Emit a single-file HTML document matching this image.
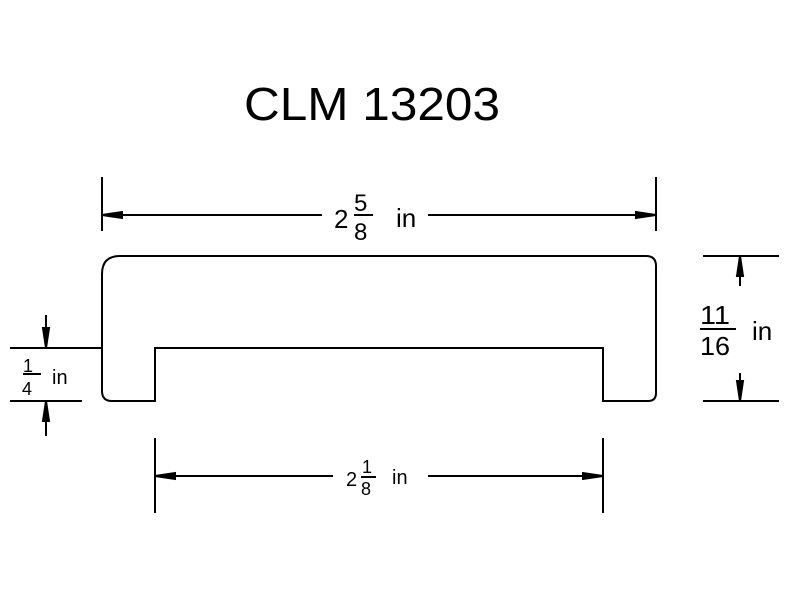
<!DOCTYPE html>
<html><head><style>body{margin:0;background:#fff}svg{display:block}</style></head>
<body>
<svg width="800" height="600" viewBox="0 0 800 600" xmlns="http://www.w3.org/2000/svg" font-family="Liberation Sans, sans-serif" fill="none" stroke="#000" stroke-width="2">
<text x="372" y="120" font-size="46" text-anchor="middle" fill="#000" stroke="none" textLength="256" lengthAdjust="spacingAndGlyphs">CLM 13203</text>
<!-- profile -->
<path d="M102 274 Q102 256 120 256 L646 256 Q656 256 656 266 L656 393 Q656 401 648 401 L603 401 L603 348 L155 348 L155 401 L112 401 Q102 401 102 391 Z"/>
<!-- top dim -->
<line x1="102" y1="177" x2="102" y2="231"/>
<line x1="656" y1="177" x2="656" y2="231"/>
<line x1="102" y1="215" x2="322" y2="215"/>
<line x1="428" y1="215" x2="656" y2="215"/>
<path d="M102 215 l20 -3 v6 z M656 215 l-20 -3 v6 z" fill="#000"/>
<g fill="#000" stroke="none">
<text x="334" y="228" font-size="26">2</text>
<text x="354" y="211" font-size="24">5</text>
<text x="354" y="240" font-size="24">8</text>
<text x="396" y="227" font-size="26">in</text>
</g>
<line x1="354" y1="215" x2="373" y2="215"/>
<!-- bottom dim -->
<line x1="155" y1="438" x2="155" y2="513"/>
<line x1="603" y1="438" x2="603" y2="513"/>
<line x1="155" y1="476" x2="333" y2="476"/>
<line x1="428" y1="476" x2="603" y2="476"/>
<path d="M155 476 l20 -3 v6 z M603 476 l-20 -3 v6 z" fill="#000"/>
<g fill="#000" stroke="none">
<text x="346" y="486" font-size="20">2</text>
<text x="362" y="473" font-size="18">1</text>
<text x="361" y="495" font-size="18">8</text>
<text x="392" y="484" font-size="20">in</text>
</g>
<line x1="361" y1="477" x2="376" y2="477"/>
<!-- left dim -->
<line x1="10" y1="348" x2="102" y2="348"/>
<line x1="10" y1="401" x2="82" y2="401"/>
<line x1="46" y1="315" x2="46" y2="348"/>
<line x1="46" y1="401" x2="46" y2="436"/>
<path d="M46 348 l-3 -20 h6 z M46 401 l-3 20 h6 z" fill="#000"/>
<g fill="#000" stroke="none">
<text x="23" y="372" font-size="18">1</text>
<text x="22" y="395" font-size="18">4</text>
<text x="52" y="384" font-size="20">in</text>
</g>
<line x1="23" y1="374" x2="41" y2="374"/>
<!-- right dim -->
<line x1="703" y1="256" x2="779" y2="256"/>
<line x1="703" y1="401" x2="779" y2="401"/>
<line x1="740" y1="256" x2="740" y2="286"/>
<line x1="740" y1="373" x2="740" y2="401"/>
<path d="M740 256 l-3 20 h6 z M740 401 l-3 -20 h6 z" fill="#000"/>
<g fill="#000" stroke="none">
<text x="700" y="324" font-size="26" textLength="30" lengthAdjust="spacingAndGlyphs">11</text>
<text x="700" y="355" font-size="26" textLength="30" lengthAdjust="spacingAndGlyphs">16</text>
<text x="752" y="340" font-size="26">in</text>
</g>
<line x1="700" y1="329" x2="736" y2="329"/>
</svg>
</body></html>
